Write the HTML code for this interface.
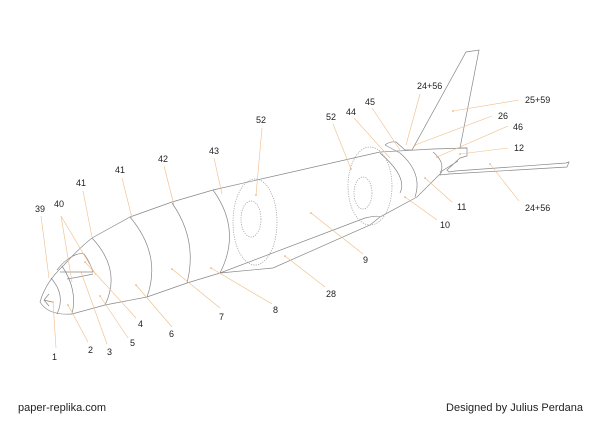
<!DOCTYPE html>
<html><head><meta charset="utf-8"><style>
html,body{margin:0;padding:0;background:#fff;}
svg{display:block;}
text{font-family:"Liberation Sans",sans-serif;font-size:9px;fill:#222;}
.b{fill:none;stroke:#888;stroke-width:0.7;}
.d{fill:none;stroke:#999;stroke-width:0.7;stroke-dasharray:1.2 1.2;}
.l{stroke:#f0bc88;stroke-width:0.6;fill:none;}
.p{fill:#e8a060;}
</style></head><body>
<svg width="600" height="424" viewBox="0 0 600 424">
<g class="b">
<path d="M40,302 C44,288 52,276 64,265 C72,256 82,246 92,238 L130,217 L172,202 L213,190 L380,152 L433,149 L467,148"/>
<path d="M40,302 C46,312 58,315 72,314 L105,305 L147,297 L187,283 L220,273 L273,268 L370,225 L380,217 L417,197 L440,174"/>
<path d="M220,273 L365,218 Q378,215 380,217"/>
<path d="M51,278 Q66,295 57,314"/>
<path d="M62,266 Q78,290 72,314"/>
<path d="M92,238 Q122,270 105,305"/>
<path d="M130,217 Q162,255 147,297"/>
<path d="M172,203 Q198,240 187,283"/>
<path d="M213,190 Q242,230 220,273"/>
<path d="M380,153 Q408,177 400,193"/>
<path d="M400,153 Q423,173 415,197"/>
<path d="M433,152 Q446,163 440,173"/>
<path d="M57,270 C66,258 78,252 84,254 Q90,262 93,272 L60,272"/>
<path d="M67,279 Q80,277 93,274"/>
<path d="M44,300 L49,294 M44,300 L52,302 M44,300 L49,306"/>
<path d="M385,145 Q390,141 396,142 L405,150 L412,150 L466,52 L479,50 L460,148 L467,148 L467,156 L460,158 L447,170 L449,172 L455,171 L566,163 L569,162 L567,167 L449,174 L440,175 L442,171 L458,161"/>
<path d="M385,145 L400,153"/>
</g>
<g class="d">
<ellipse cx="255" cy="222" rx="22" ry="43"/>
<ellipse cx="251" cy="219" rx="10" ry="18"/>
<ellipse cx="370" cy="186" rx="22" ry="39"/>
<ellipse cx="363" cy="193" rx="9" ry="16"/>
</g>
<g class="l">
<path d="M56,348 L53,302"/><path d="M88,342 L68,305"/><path d="M107,344 L81,272"/>
<path d="M136,318 L85,262"/><path d="M128,338 L100,296"/><path d="M172,327 L136,285"/>
<path d="M220,308 L172,269"/><path d="M272,304 L211,268"/><path d="M363,254 L311,213"/>
<path d="M437,220 L405,197"/><path d="M452,202 L425,178"/><path d="M508,148 L460,154"/>
<path d="M508,126 L437,157"/><path d="M492,116 L415,145"/><path d="M519,100 L453,111"/>
<path d="M420,94 L406,145"/><path d="M519,201 L490,164"/><path d="M372,108 L400,150"/>
<path d="M354,118 L390,158"/><path d="M333,124 L351,169"/><path d="M262,128 L256,195"/>
<path d="M214,158 L222,194"/><path d="M164,166 L174,205"/><path d="M122,178 L132,218"/>
<path d="M83,191 L92,237"/><path d="M61,216 L72,282"/><path d="M61,216 L96,275"/>
<path d="M41,216 L49,278"/><path d="M325,287 L285,256"/>
</g>
<g class="p">
<circle cx="53" cy="302" r="0.8"/><circle cx="68" cy="305" r="0.8"/><circle cx="81" cy="272" r="0.8"/>
<circle cx="85" cy="262" r="0.8"/><circle cx="100" cy="296" r="0.8"/><circle cx="136" cy="285" r="0.8"/>
<circle cx="172" cy="269" r="0.8"/><circle cx="211" cy="268" r="0.8"/><circle cx="311" cy="213" r="0.8"/>
<circle cx="405" cy="197" r="0.8"/><circle cx="425" cy="178" r="0.8"/><circle cx="460" cy="154" r="0.8"/>
<circle cx="437" cy="157" r="0.8"/><circle cx="415" cy="145" r="0.8"/><circle cx="453" cy="111" r="0.8"/>
<circle cx="490" cy="164" r="0.8"/><circle cx="351" cy="169" r="0.8"/><circle cx="256" cy="195" r="0.8"/>
<circle cx="285" cy="256" r="0.8"/>
</g>
<text x="52" y="360">1</text><text x="88" y="353">2</text><text x="107" y="355">3</text>
<text x="138" y="327">4</text><text x="130" y="346">5</text><text x="169" y="337">6</text>
<text x="219" y="320">7</text><text x="273" y="313">8</text><text x="363" y="263">9</text>
<text x="440" y="228">10</text><text x="457" y="210">11</text><text x="514" y="151">12</text>
<text x="513" y="130">46</text><text x="498" y="119">26</text><text x="525" y="103">25+59</text>
<text x="417" y="89">24+56</text><text x="525" y="211">24+56</text><text x="365" y="105">45</text>
<text x="346" y="115">44</text><text x="326" y="120">52</text><text x="256" y="123">52</text>
<text x="209" y="154">43</text><text x="158" y="162">42</text><text x="115" y="173">41</text>
<text x="76" y="186">41</text><text x="54" y="207">40</text><text x="35" y="212">39</text>
<text x="326" y="297">28</text>
<text x="18" y="411" style="font-size:11px">paper-replika.com</text>
<text x="583" y="411" text-anchor="end" style="font-size:11px">Designed by Julius Perdana</text>
</svg>
</body></html>
